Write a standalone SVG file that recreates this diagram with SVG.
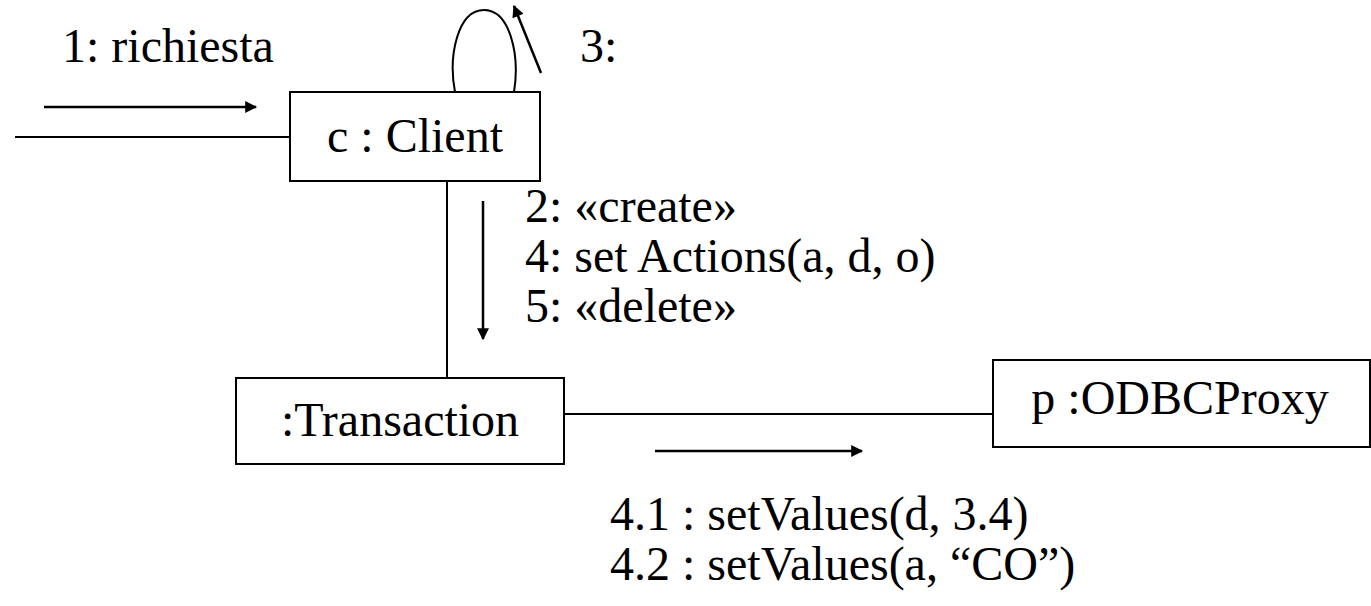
<svg xmlns="http://www.w3.org/2000/svg" width="1371" height="606" viewBox="0 0 1371 606">
<style>
text{font-family:'Liberation Serif','Tinos','DejaVu Serif',serif;font-size:48px;fill:#000}
.box{fill:#fff;stroke:#000;stroke-width:2}
.ln{fill:none;stroke:#000;stroke-width:2}
.ar{fill:none;stroke:#000;stroke-width:2.5;marker-end:url(#ah)}
</style>
<defs>
<marker id="ah" viewBox="0 0 10 10" refX="9" refY="5" markerWidth="15" markerHeight="12" markerUnits="userSpaceOnUse" orient="auto">
<path d="M0,0 L10,5 L0,10 z" fill="#000"/>
</marker>
</defs>
<g id="connectors">
<line class="ln" x1="15" y1="137" x2="290" y2="137"/>
<path class="ln" d="M455,92 C448,55 458,10 484,10 C510,10 520,55 514,92"/>
<line class="ln" x1="447" y1="181" x2="447" y2="378"/>
<line class="ln" x1="564" y1="414" x2="993" y2="414"/>
<line class="ar" x1="44" y1="107" x2="256" y2="107"/>
<line class="ar" x1="541" y1="73" x2="514" y2="6"/>
<line class="ar" x1="483" y1="201" x2="483" y2="339"/>
<line class="ar" x1="655" y1="451" x2="862" y2="451"/>
<text x="62" y="62">1: richiesta</text>
<text x="580" y="62">3:</text>
<text x="525" y="222">2: «create»</text>
<text x="525" y="272">4: set Actions(a, d, o)</text>
<text x="525" y="322">5: «delete»</text>
<text x="610" y="530">4.1 : setValues(d, 3.4)</text>
<text x="610" y="580">4.2 : setValues(a, “CO”)</text>
</g>
<g id="client">
<rect class="box" x="290" y="92" width="250" height="89"/>
<text x="415" y="152" text-anchor="middle">c : Client</text>
</g>
<g id="transaction">
<rect class="box" x="236" y="378" width="328" height="86"/>
<text x="400" y="436" text-anchor="middle">:Transaction</text>
</g>
<g id="odbcproxy">
<rect class="box" x="993" y="360" width="377" height="87"/>
<text x="1180" y="414" text-anchor="middle">p :ODBCProxy</text>
</g>
</svg>
